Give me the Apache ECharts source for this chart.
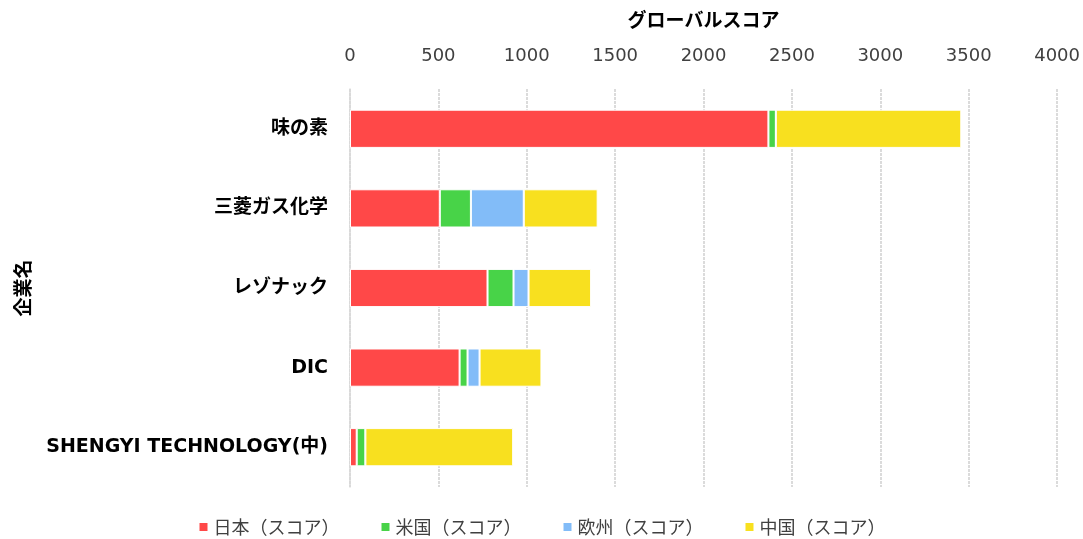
<!DOCTYPE html>
<html>
<head>
<meta charset="utf-8">
<script src="https://cdn.jsdelivr.net/npm/echarts@6/dist/echarts.min.js"></script>
<style>
  html, body { margin: 0; padding: 0; background: #fff; }
  #main { width: 1083px; height: 539px; }
</style>
</head>
<body>
<div id="main"></div>
<script>
// 企業名（上から順）
var companies = ['味の素', '三菱ガス化学', 'レゾナック', 'DIC', 'SHENGYI TECHNOLOGY(中)'];
// 各地域のスコア
var japan = [2367, 508, 778, 620, 38];
var usa = [42, 176, 147, 45, 49];
var europe = [0, 299, 85, 68, 0];
var china = [1049, 418, 354, 350, 836];

var seriesNames = ['日本（スコア）', '米国（スコア）', '欧州（スコア）', '中国（スコア）'];
var colors = ['#ff4848', '#48d348', '#82bcf8', '#f8e01f'];
var font = '"DejaVu Sans", "Noto Sans CJK JP", sans-serif';
var cjk = '"Noto Sans CJK JP", sans-serif';

var myChart = echarts.init(document.getElementById('main'));

function makeSeries(name, data, color) {
  return {
    name: name,
    type: 'bar',
    stack: 'total',
    barCategoryGap: '52%',
    data: data,
    itemStyle: { color: color, borderColor: '#fff', borderWidth: 1 }
  };
}

var option = {
  animation: false,
  textStyle: { fontFamily: font },
  grid: { left: 350, right: 25, top: 89, bottom: 52 },
  legend: {
    bottom: -2,
    left: 'center',
    itemWidth: 10,
    itemHeight: 10,
    itemGap: 40,
    icon: 'rect',
    textStyle: { fontSize: 18, color: '#404040', fontFamily: cjk },
    data: seriesNames
  },
  xAxis: {
    type: 'value',
    position: 'top',
    min: 0,
    max: 4000,
    interval: 500,
    name: 'グローバルスコア',
    nameLocation: 'middle',
    nameGap: 60,
    nameTextStyle: { fontSize: 19, fontWeight: 'bold', color: '#000', fontFamily: cjk },
    axisLine: { show: false },
    axisTick: { show: false },
    axisLabel: {
      fontSize: 18, color: '#404040', margin: 24,
      formatter: function (v) { return String(v); }
    },
    splitLine: { lineStyle: { color: '#d0d0d0', type: [3, 1], width: 1.5 } }
  },
  yAxis: {
    type: 'category',
    inverse: true,
    data: companies,
    name: '企業名',
    nameLocation: 'middle',
    nameGap: 318,
    nameRotate: 90,
    nameTextStyle: { fontSize: 19, fontWeight: 'bold', color: '#000', fontFamily: cjk },
    axisLine: { show: true, lineStyle: { color: '#d9d9d9', width: 1.5 } },
    axisTick: { show: false },
    axisLabel: { fontSize: 19, fontWeight: 'bold', color: '#000', margin: 22 }
  },
  series: [
    makeSeries(seriesNames[0], japan, colors[0]),
    makeSeries(seriesNames[1], usa, colors[1]),
    makeSeries(seriesNames[2], europe, colors[2]),
    makeSeries(seriesNames[3], china, colors[3])
  ]
};

myChart.setOption(option);
</script>
</body>
</html>
